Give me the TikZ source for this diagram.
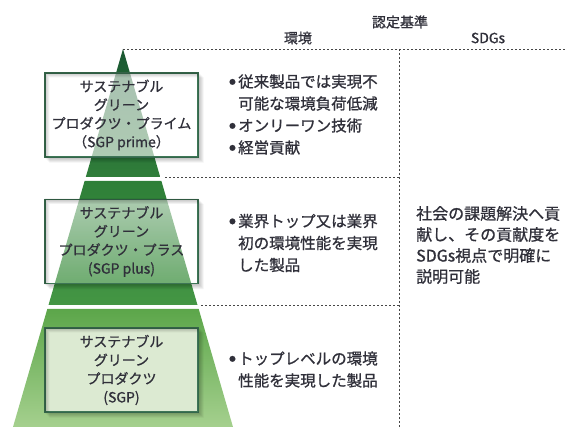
\documentclass[tikz,border=0pt]{standalone}
\usepackage{fontspec}
\setmainfont[FakeBold=0.9]{Noto Sans CJK JP}
\usetikzlibrary{fadings}

\definecolor{inkgray}{RGB}{48,48,58}
\definecolor{boxgreen}{RGB}{62,118,86}
\definecolor{pinetop}{RGB}{26,88,50}
\definecolor{pinebot}{RGB}{48,126,58}
\definecolor{midtop}{RGB}{46,127,56}
\definecolor{midbot}{RGB}{68,150,68}
\definecolor{lowtop}{RGB}{92,166,74}
\definecolor{lowbot}{RGB}{165,208,142}
\definecolor{paleleaf}{RGB}{220,234,210}
\definecolor{rulegray}{RGB}{70,70,70}

\tikzfading[name=fadedown, top color=transparent!40, bottom color=transparent!75]
\newcommand{\bul}{\makebox[9pt][l]{\raisebox{3pt}{\fontsize{6.5}{7}\selectfont ●}}}

\begin{document}
\begin{tikzpicture}[x=1pt,y=-1pt, every node/.style={text=inkgray, inner sep=0pt},
  sgpbox/.style={draw=boxgreen, line width=1.1pt, minimum width=153pt, minimum height=84pt,
    align=center, font=\fontsize{14}{18.5}\selectfont},
  item/.style={anchor=west, align=left, font=\fontsize{15.5}{22}\selectfont},
  head/.style={font=\fontsize{14}{14}\selectfont},
  divider/.style={draw=rulegray, line width=0.9pt, dash pattern=on 2.4pt off 1.6pt}]
\useasboundingbox (0,0) rectangle (566,427);
\shade[top color=pinetop, bottom color=pinebot] (123,49) -- (160.2,177) -- (85.8,177) -- cycle;
\shade[top color=midtop, bottom color=midbot] (84.6,181) -- (161.4,181) -- (197.5,305) -- (48.5,305) -- cycle;
\shade[top color=lowtop, bottom color=lowbot] (47.3,309) -- (198.7,309) -- (233,427) -- (13,427) -- cycle;
\draw[divider] (123,49) -- (566,49);
\draw[divider] (399,49) -- (399,427);
\draw[divider] (165,177) -- (399,177);
\draw[divider] (201,305) -- (399,305);
\node[head] (criteria) at (400,22) {認定基準};
\node[head] (envhead) at (298,38) {環境};
\node[head] (sdghead) at (488,38) {SDGs};
\node[sgpbox, fill=white, fill opacity=0.62, text opacity=1] (sgpprime) at (121.5,115)
  {サステナブル\\グリーン\\プロダクツ・プライム\\（SGP prime）};
\node[sgpbox, preaction={fill=white, path fading=fadedown}] (sgpplus) at (121.5,241.5)
  {サステナブル\\グリーン\\プロダクツ・プラス\\(SGP plus)};
\node[sgpbox, fill=paleleaf] (sgpbase) at (121.5,370)
  {サステナブル\\グリーン\\プロダクツ\\(SGP)};
\foreach \b in {sgpprime,sgpplus,sgpbase}
  \foreach \d in {1,...,5}
    \fill[black, opacity=0.05, even odd rule]
      ([xshift=\d pt,yshift=-\d pt]\b.north west) rectangle ([xshift=\d pt,yshift=-\d pt]\b.south east)
      (\b.north west) rectangle (\b.south east);
\node[item] (envprime) at (229,114.5)
  {\bul 従来製品では実現不\\\hspace*{9pt}可能な環境負荷低減\\\bul オンリーワン技術\\\bul 経営貢献};
\node[item] (envplus) at (229,243)
  {\bul 業界トップ又は業界\\\hspace*{9pt}初の環境性能を実現\\\hspace*{9pt}した製品};
\node[item] (envbase) at (229,369.5)
  {\bul トップレベルの環境\\\hspace*{9pt}性能を実現した製品};
\node[item, font=\fontsize{16}{21}\selectfont] (sdgsgoal) at (416,245)
  {社会の課題解決へ貢\\献し、その貢献度を\\SDGs視点で明確に\\説明可能};
\end{tikzpicture}
\end{document}
